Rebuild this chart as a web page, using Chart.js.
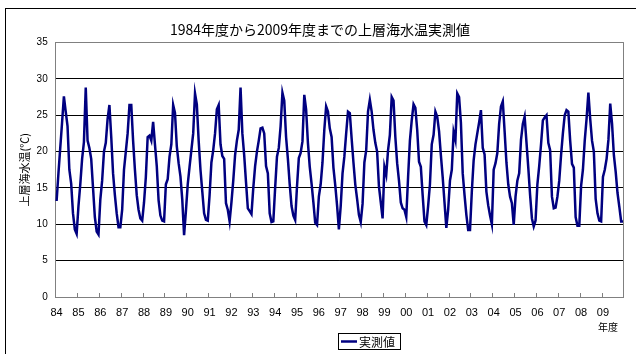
<!DOCTYPE html>
<html>
<head>
<meta charset="utf-8">
<script src="https://cdn.jsdelivr.net/npm/chart.js@4/dist/chart.umd.min.js"></script>
<style>
  html, body { margin: 0; padding: 0; background: #fff; }
</style>
</head>
<body>
<canvas id="sstChart" width="636" height="354"></canvas>
<script>
// x軸の年度ラベル（各年度の4月に表示）
const fiscalYears = ['84','85','86','87','88','89','90','91','92','93','94','95','96',
                     '97','98','99','00','01','02','03','04','05','06','07','08','09'];

// 上層海水温の月別実測値（4月〜翌3月, ℃）
const fy1984 = [13.2, 17.0, 20.5, 24.0, 27.6, 25.5, 23.5, 17.5, 15.6, 11.5, 9.3, 8.7];
const fy1985 = [12.5, 15.5, 19.0, 21.3, 28.8, 21.5, 20.5, 19.0, 15.0, 11.0, 9.0, 8.6];
const fy1986 = [13.4, 16.0, 20.0, 21.2, 24.5, 26.4, 22.0, 17.0, 14.0, 11.5, 9.6, 9.6];
const fy1987 = [12.0, 17.5, 20.0, 22.5, 26.4, 26.4, 21.5, 17.5, 14.0, 12.0, 10.8, 10.5];
const fy1988 = [13.0, 16.5, 22.0, 22.2, 21.5, 24.1, 21.0, 18.0, 13.3, 11.2, 10.5, 10.4];
const fy1989 = [15.5, 16.2, 19.3, 21.0, 26.4, 25.3, 20.7, 18.4, 16.6, 13.4, 8.5, 11.8];
const fy1990 = [15.5, 17.9, 20.2, 22.5, 28.0, 26.5, 21.5, 17.5, 14.5, 11.5, 10.6, 10.5];
const fy1991 = [14.0, 18.5, 20.2, 22.5, 25.8, 26.4, 21.0, 19.4, 19.0, 12.9, 12.0, 10.4];
const fy1992 = [13.0, 16.0, 19.5, 21.5, 23.0, 28.8, 22.5, 19.5, 15.8, 12.2, 11.8, 11.4];
const fy1993 = [15.0, 18.0, 20.0, 21.5, 23.2, 23.3, 22.5, 18.0, 17.0, 11.5, 10.3, 10.4];
const fy1994 = [15.0, 19.3, 20.5, 23.5, 28.1, 27.0, 22.0, 19.0, 15.5, 12.5, 11.2, 10.6];
const fy1995 = [15.2, 19.1, 19.8, 21.4, 27.8, 25.8, 21.2, 17.9, 15.6, 13.0, 10.2, 9.9];
const fy1996 = [13.8, 15.5, 18.5, 23.0, 26.2, 25.5, 23.2, 22.0, 17.8, 15.4, 12.6, 9.3];
const fy1997 = [12.5, 17.0, 19.3, 22.5, 25.5, 25.3, 21.8, 18.5, 15.5, 13.5, 11.3, 10.3];
const fy1998 = [12.8, 18.5, 20.2, 25.5, 27.1, 25.5, 23.0, 21.2, 20.0, 15.2, 13.0, 10.8];
const fy1999 = [17.9, 16.8, 20.2, 22.3, 27.5, 27.0, 22.0, 18.4, 16.0, 13.0, 12.2, 12.0];
const fy2000 = [11.0, 16.5, 21.5, 24.3, 26.5, 26.0, 23.0, 18.6, 17.9, 14.0, 10.4, 9.9];
const fy2001 = [12.5, 15.5, 21.0, 22.3, 25.5, 24.8, 22.8, 19.5, 16.5, 13.0, 9.5, 12.0];
const fy2002 = [16.0, 17.5, 22.7, 21.6, 28.0, 27.5, 24.0, 17.0, 14.0, 11.3, 9.2, 9.2];
const fy2003 = [14.5, 18.8, 21.0, 22.5, 24.0, 25.7, 20.5, 19.6, 14.5, 12.6, 11.2, 10.0];
const fy2004 = [17.5, 18.4, 19.8, 23.8, 26.2, 26.9, 22.8, 18.5, 15.5, 13.8, 12.9, 9.9];
const fy2005 = [13.8, 16.0, 17.0, 21.6, 23.8, 24.8, 21.3, 17.8, 14.0, 10.8, 9.7, 10.5];
const fy2006 = [15.5, 18.0, 21.0, 24.3, 24.7, 25.0, 21.2, 20.2, 13.8, 12.2, 12.3, 13.8];
const fy2007 = [16.0, 19.5, 22.5, 25.0, 25.7, 25.5, 21.5, 18.3, 17.8, 11.0, 9.8, 9.8];
const fy2008 = [15.3, 17.5, 21.5, 24.5, 28.1, 24.5, 21.5, 20.0, 13.5, 11.5, 10.5, 10.4];
const fy2009 = [16.5, 17.5, 19.0, 21.6, 26.6, 23.8, 19.5, 17.2, 14.3, 12.4, 10.4, 10.4];

// y軸目盛
const tempTicks = [0, 5, 10, 15, 20, 25, 30, 35];

const monthlyTemps = [].concat(
  fy1984, fy1985, fy1986, fy1987, fy1988, fy1989, fy1990, fy1991, fy1992,
  fy1993, fy1994, fy1995, fy1996, fy1997, fy1998, fy1999, fy2000, fy2001,
  fy2002, fy2003, fy2004, fy2005, fy2006, fy2007, fy2008, fy2009
);

// 各年度12か月分のカテゴリ（4月だけ年度ラベル）
const monthLabels = [];
fiscalYears.forEach(function(y) {
  monthLabels.push(y);
  for (let m = 1; m < 12; m++) monthLabels.push('');
});

const FONT = '"Liberation Sans", "Noto Sans CJK JP", sans-serif';
const JP_FONT = '"Noto Sans CJK JP", sans-serif';
const LINE_COLOR = '#000080';

Chart.defaults.font.family = FONT;
Chart.defaults.color = '#000';

// 外枠・タイトル・凡例・「年度」を描くプラグイン
const decorations = {
  id: 'decorations',
  beforeDraw: function(chart) {
    const ctx = chart.ctx;
    ctx.save();
    ctx.fillStyle = '#fff';
    ctx.fillRect(0, 0, chart.width, chart.height);
    ctx.strokeStyle = '#000';
    ctx.lineWidth = 1;
    ctx.strokeRect(5.5, 8.5, 700, 400);
    ctx.restore();
  },
  beforeDatasetsDraw: function(chart) {
    const ctx = chart.ctx;
    const a = chart.chartArea;
    ctx.save();
    ctx.strokeStyle = '#808080';
    ctx.lineWidth = 1;
    ctx.beginPath();
    ctx.moveTo(Math.round(a.right) - 0.5, a.top);
    ctx.lineTo(Math.round(a.right) - 0.5, a.bottom);
    ctx.stroke();
    ctx.restore();
  },
  afterDraw: function(chart) {
    const ctx = chart.ctx;
    ctx.save();
    ctx.fillStyle = '#000';
    ctx.textBaseline = 'middle';

    // タイトル
    ctx.font = '14px ' + JP_FONT;
    ctx.textAlign = 'center';
    ctx.fillText('1984年度から2009年度までの上層海水温実測値', 320, 30);

    // x軸の単位
    ctx.font = '10px ' + JP_FONT;
    ctx.textAlign = 'right';
    ctx.fillText('年度', 618, 327);

    // 凡例
    ctx.strokeStyle = '#000';
    ctx.lineWidth = 1;
    ctx.strokeRect(338.5, 333.5, 62, 16);
    ctx.strokeStyle = LINE_COLOR;
    ctx.lineWidth = 2.5;
    ctx.beginPath();
    ctx.moveTo(341, 341.5);
    ctx.lineTo(357, 341.5);
    ctx.stroke();
    ctx.font = '12px ' + JP_FONT;
    ctx.textAlign = 'left';
    ctx.fillText(chart.data.datasets[0].label, 359, 342);
    ctx.restore();
  }
};

new Chart(document.getElementById('sstChart'), {
  type: 'line',
  data: {
    labels: monthLabels,
    datasets: [{
      label: '実測値',
      data: monthlyTemps,
      borderColor: LINE_COLOR,
      backgroundColor: LINE_COLOR,
      borderWidth: 2.5,
      pointRadius: 0,
      tension: 0,
      fill: false
    }]
  },
  options: {
    responsive: false,
    animation: false,
    devicePixelRatio: 1,
    layout: { padding: { top: 42.5, right: 11.3, bottom: 0, left: 0 } },
    plugins: {
      legend: { display: false },
      title: { display: false },
      tooltip: { enabled: false }
    },
    scales: {
      x: {
        offset: true,
        grid: {
          display: true,
          offset: true,
          drawOnChartArea: false,
          drawTicks: true,
          tickLength: -4,
          color: function(c) { return c.index % 12 === 0 ? '#808080' : 'rgba(0,0,0,0)'; }
        },
        border: { color: '#808080', width: 1 },
        ticks: {
          autoSkip: false,
          maxRotation: 0,
          minRotation: 0,
          padding: 13,
          font: { size: 11 }
        },
        afterFit: function(s) { s.height = 57; }
      },
      y: {
        min: tempTicks[0],
        max: tempTicks[tempTicks.length - 1],
        afterBuildTicks: function(s) {
          s.ticks = tempTicks.map(function(v) { return { value: v }; });
        },
        ticks: { padding: 8, font: { size: 10 } },
        grid: {
          drawTicks: false,
          color: function(c) {
            const v = c.tick ? c.tick.value : null;
            return (v === 35 || v === 0) ? '#808080' : '#000';
          }
        },
        border: { color: '#808080', width: 1 },
        title: {
          display: true,
          text: '上層海水温(℃)',
          font: { size: 11, family: JP_FONT },
          padding: { top: 18.4, bottom: 0 }
        },
        afterFit: function(s) { s.width = 55.7; }
      }
    }
  },
  plugins: [decorations]
});
</script>
</body>
</html>
